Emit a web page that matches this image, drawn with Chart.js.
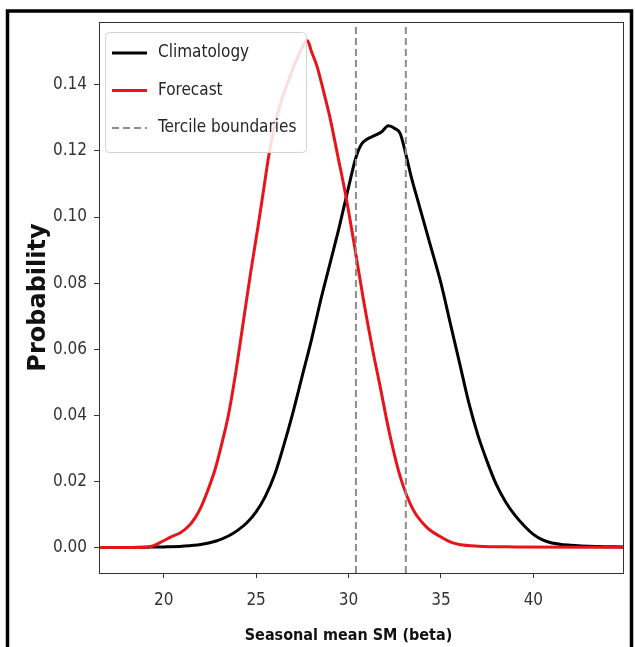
<!DOCTYPE html>
<html>
<head>
<meta charset="utf-8">
<script src="https://cdn.jsdelivr.net/npm/chart.js@4/dist/chart.umd.min.js"></script>
<style>
    body { margin: 0; background: #fff; }
    canvas { display: block; }
</style>
</head>
<body>
<canvas id="pdfChart" width="635" height="647"></canvas>
<script>
// Climatology density (black)
const climX = [16.5, 18.0, 19.0, 20.0, 21.0, 22.0, 22.8, 23.5, 24.0, 24.5, 25.0, 25.5, 26.0, 26.5, 27.0, 27.5,
    28.0, 28.5, 29.0, 29.5, 30.0, 30.4, 30.7, 31.0, 31.4, 31.8, 32.15, 32.5, 32.8, 33.1, 33.4, 33.8, 34.4,
    35.0, 35.5, 36.0, 36.5, 37.0, 37.5, 38.0, 38.5, 39.0, 39.5, 40.0, 40.5, 41.0, 42.0, 43.5, 44.85];
const climY = [0.0, 0.0, 0.0001, 0.0002, 0.0004, 0.0009, 0.0019, 0.0035, 0.0052, 0.0075, 0.0108, 0.0155, 0.022, 0.031, 0.041, 0.052,
    0.063, 0.075, 0.086, 0.097, 0.109, 0.118, 0.122, 0.1235, 0.1246, 0.1258, 0.1276, 0.1268, 0.1252, 0.119, 0.112, 0.104, 0.092,
    0.080, 0.068, 0.056, 0.044, 0.034, 0.026, 0.019, 0.0138, 0.0098, 0.0066, 0.004, 0.0023, 0.0014, 0.0007, 0.0003, 0.0002];

// Forecast density (red)
const fcstX = [16.5, 18.5, 19.3, 19.8, 20.4, 20.9, 21.3, 21.7, 22.0, 22.4, 22.8, 23.2, 23.5, 23.9, 24.3, 24.7,
    25.1, 25.4, 25.7, 26.2, 26.8, 27.3, 27.78, 28.0, 28.3, 28.65, 29.0, 29.4, 29.85, 30.3, 30.8, 31.3, 31.7,
    32.2, 32.8, 33.5, 34.0, 34.4, 35.0, 35.5, 36.0, 37.0, 39.0, 44.85];
const fcstY = [0.0, 0.0, 0.0003, 0.0015, 0.0032, 0.0045, 0.0062, 0.009, 0.012, 0.0175, 0.024, 0.0327, 0.040, 0.053, 0.068, 0.083,
    0.097, 0.108, 0.119, 0.132, 0.142, 0.149, 0.1533, 0.150, 0.1455, 0.138, 0.130, 0.119, 0.1065, 0.092, 0.0752, 0.060, 0.049,
    0.035, 0.0214, 0.0114, 0.0075, 0.0053, 0.0032, 0.0017, 0.0009, 0.0004, 0.0002, 0.0001];

const tercileBounds = [30.4, 33.1];
const xLimits = [16.5, 44.85];
const yLimits = [-0.0077, 0.159];
const xTicks = [20, 25, 30, 35, 40];
const yTicks = [0.00, 0.02, 0.04, 0.06, 0.08, 0.10, 0.12, 0.14];

const legendNames = ['Climatology', 'Forecast', 'Tercile boundaries'];

const condensed = "'DejaVu Sans Condensed', 'Liberation Sans Narrow', 'DejaVu Sans', sans-serif";

function toPoints(xs, ys) {
    return xs.map(function(x, i) { return { x: x, y: ys[i] }; });
}

// white page + outer black frame + axes box + legend inside the plot
const framePlugin = {
    id: 'frame',
    beforeDraw: function(chart) {
        const ctx = chart.ctx;
        ctx.save();
        ctx.fillStyle = '#fff';
        ctx.fillRect(0, 0, chart.width, chart.height);
        ctx.restore();
    },
    afterDraw: function(chart) {
        const ctx = chart.ctx;
        const a = chart.chartArea;
        ctx.save();
        ctx.strokeStyle = '#333';
        ctx.lineWidth = 1;
        ctx.strokeRect(a.left + 0.5, a.top + 0.5, a.right - a.left, a.bottom - a.top);

        ctx.strokeStyle = '#000';
        ctx.lineWidth = 3.5;
        ctx.beginPath();
        ctx.moveTo(7.5, chart.height);
        ctx.lineTo(7.5, 11);
        ctx.lineTo(631.5, 11);
        ctx.lineTo(631.5, chart.height);
        ctx.stroke();

        // legend
        const bx = a.left + 6, by = a.top + 10, bw = 201, bh = 120;
        ctx.fillStyle = 'rgba(255,255,255,0.85)';
        ctx.strokeStyle = '#d3d3d3';
        ctx.lineWidth = 1;
        ctx.beginPath();
        ctx.roundRect(bx + 0.5, by + 0.5, bw, bh, 4);
        ctx.fill();
        ctx.stroke();

        ctx.font = '17px ' + condensed;
        ctx.textBaseline = 'middle';
        ctx.textAlign = 'left';
        legendNames.forEach(function(name, i) {
            const ds = chart.data.datasets.find(function(d) { return d.label === name; });
            const y = by + 21 + i * 37.5;
            ctx.strokeStyle = ds.borderColor;
            ctx.lineWidth = ds.borderWidth;
            ctx.setLineDash(ds.borderDash || []);
            ctx.beginPath();
            ctx.moveTo(bx + 7, y);
            ctx.lineTo(bx + 42, y);
            ctx.stroke();
            ctx.setLineDash([]);
            ctx.fillStyle = '#262626';
            ctx.fillText(name, bx + 53, y);
        });
        ctx.restore();
    }
};

const ctx = document.getElementById('pdfChart').getContext('2d');
const pdfChart = new Chart(ctx, {
    type: 'line',
    data: {
        datasets: [
            {
                label: 'Tercile boundaries',
                data: [{ x: tercileBounds[0], y: yLimits[0] }, { x: tercileBounds[0], y: yLimits[1] }],
                borderColor: '#8c8c8c',
                borderWidth: 2,
                borderDash: [7, 4],
                pointRadius: 0
            },
            {
                label: 'Tercile boundaries 2',
                data: [{ x: tercileBounds[1], y: yLimits[0] }, { x: tercileBounds[1], y: yLimits[1] }],
                borderColor: '#8c8c8c',
                borderWidth: 2,
                borderDash: [7, 4],
                pointRadius: 0
            },
            {
                label: 'Forecast',
                data: toPoints(fcstX, fcstY),
                borderColor: '#e8141c',
                borderWidth: 3,
                pointRadius: 0,
                cubicInterpolationMode: 'monotone'
            },
            {
                label: 'Climatology',
                data: toPoints(climX, climY),
                borderColor: '#000',
                borderWidth: 3,
                pointRadius: 0,
                cubicInterpolationMode: 'monotone'
            }
        ]
    },
    options: {
        responsive: false,
        animation: false,
        events: [],
        layout: {
            padding: { left: 8, right: 12, top: 22, bottom: 0 }
        },
        scales: {
            x: {
                type: 'linear',
                min: xLimits[0],
                max: xLimits[1],
                afterFit: function(scale) { scale.height = 74; },
                afterBuildTicks: function(scale) {
                    scale.ticks = xTicks.map(function(v) { return { value: v }; });
                },
                grid: { drawOnChartArea: false, drawTicks: true, tickLength: 5, color: '#333' },
                border: { color: '#333', width: 1 },
                ticks: {
                    color: '#333',
                    padding: 12,
                    maxRotation: 0,
                    font: { family: condensed, size: 17 },
                    callback: function(v) { return String(v); }
                },
                title: {
                    display: true,
                    // trailing spaces nudge the centred label a bit to the left, as in the original
                    text: 'Seasonal mean SM (beta)\u00a0\u00a0\u00a0\u00a0\u00a0',
                    color: '#111',
                    padding: { top: 0, bottom: 2 },
                    font: { family: condensed, size: 16, weight: 'bold' }
                }
            },
            y: {
                min: yLimits[0],
                max: yLimits[1],
                afterFit: function(scale) { scale.width = 91; },
                afterBuildTicks: function(scale) {
                    scale.ticks = yTicks.map(function(v) { return { value: v }; });
                },
                grid: { drawOnChartArea: false, drawTicks: true, tickLength: 5, color: '#333' },
                border: { color: '#333', width: 1 },
                ticks: {
                    color: '#333',
                    padding: 7,
                    font: { family: condensed, size: 17 },
                    callback: function(v) { return v.toFixed(2); }
                },
                title: {
                    display: true,
                    text: 'Probability',
                    color: '#111',
                    padding: { top: 16, bottom: 0 },
                    font: { family: "'DejaVu Sans', sans-serif", size: 24, weight: 'bold' }
                }
            }
        },
        plugins: {
            legend: { display: false },
            tooltip: { enabled: false }
        }
    },
    plugins: [framePlugin]
});
</script>
</body>
</html>
